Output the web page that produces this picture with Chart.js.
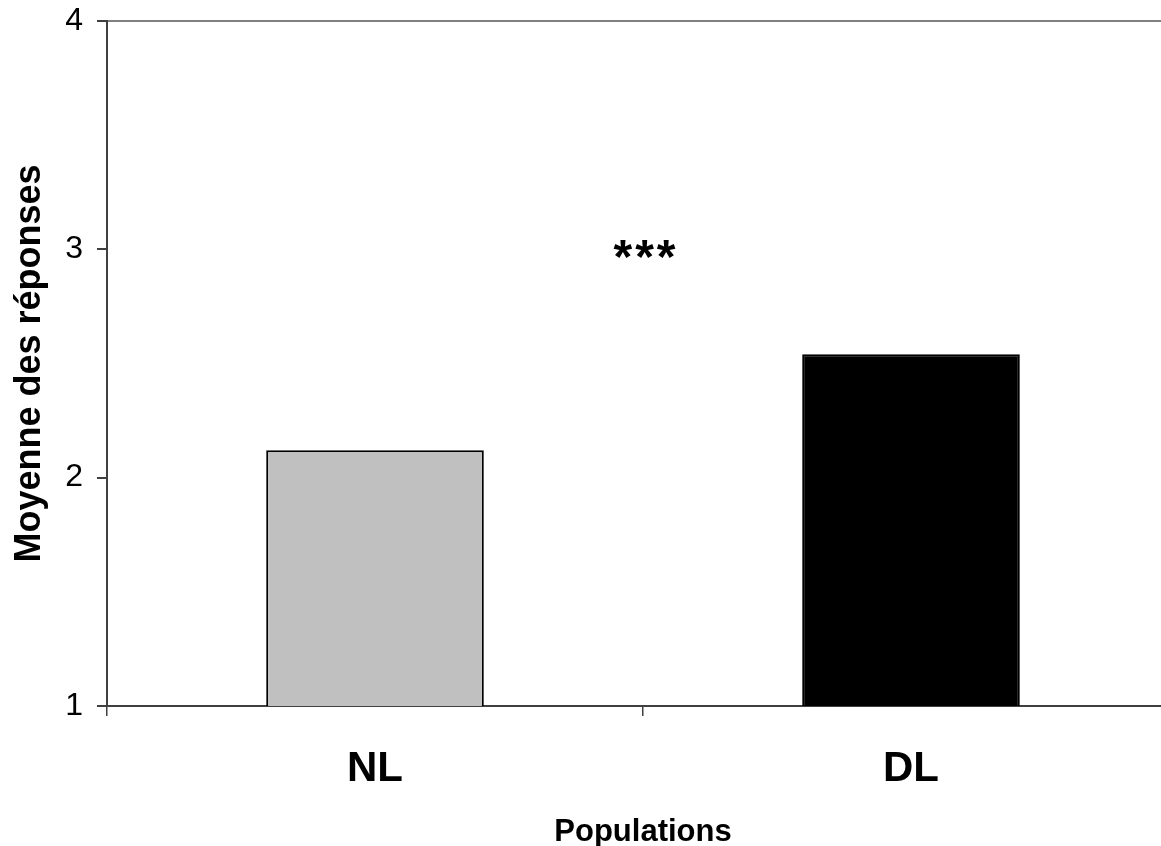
<!DOCTYPE html>
<html>
<head>
<meta charset="utf-8">
<script src="https://cdn.jsdelivr.net/npm/chart.js@4"></script>
<style>
    html, body { margin: 0; padding: 0; background: #fff; overflow: hidden; }
    #wrap { width: 1200px; height: 846px; }
</style>
</head>
<body>
<div id="wrap"><canvas id="meansChart" width="1200" height="846"></canvas></div>
<script>
    // Données
    const populations = ['NL', 'DL'];
    const moyennes = [2.12, 2.54];
    const couleurs = ['#c0c0c0', '#000000'];
    const yTicks = [1, 2, 3, 4];
    const signif = '***';
    const signifY = 3;

    const font = "'Liberation Sans', Arial, sans-serif";
    const axisColor = '#404040';

    // Étoiles de significativité entre les deux barres
    const signifPlugin = {
        id: 'signif',
        afterDatasetsDraw(chart) {
            const ctx = chart.ctx;
            const x = (chart.scales.x.getPixelForValue(0) + chart.scales.x.getPixelForValue(1)) / 2;
            const y = chart.scales.y.getPixelForValue(signifY);
            ctx.save();
            ctx.font = 'bold 48px ' + font;
            ctx.letterSpacing = '3px';
            ctx.fillStyle = '#000';
            ctx.textAlign = 'center';
            ctx.textBaseline = 'middle';
            ctx.fillText(signif, x + 3, y + 10);
            ctx.restore();
        }
    };

    const chart = new Chart(document.getElementById('meansChart'), {
        type: 'bar',
        data: {
            labels: populations,
            datasets: [{
                label: 'Moyenne',
                data: moyennes,
                backgroundColor: couleurs,
                borderColor: '#000',
                borderWidth: 2,
                barPercentage: 0.406,
                categoryPercentage: 1
            }]
        },
        options: {
            responsive: false,
            animation: false,
            layout: { padding: { top: 0, right: 21, left: 0, bottom: 0 } },
            plugins: {
                legend: { display: false },
                tooltip: { enabled: false }
            },
            scales: {
                x: {
                    grid: {
                        offset: true,
                        drawOnChartArea: false,
                        tickLength: 10,
                        tickColor: axisColor,
                        lineWidth: 1.5
                    },
                    border: { color: axisColor, width: 2 },
                    ticks: {
                        color: '#000',
                        padding: 28,
                        font: { family: font, size: 42, weight: 'bold' }
                    },
                    title: {
                        display: true,
                        text: 'Populations',
                        color: '#000',
                        padding: { top: 20, bottom: 0 },
                        font: { family: font, size: 31, weight: 'bold', lineHeight: 0.85 }
                    },
                    afterFit(scale) { scale.height = 140; }
                },
                y: {
                    min: 1,
                    max: 4,
                    afterBuildTicks(scale) { scale.ticks = yTicks.map(v => ({ value: v })); },
                    grid: {
                        color: c => c.tick && c.tick.value === 4 ? '#808080' : 'transparent',
                        lineWidth: 2,
                        tickLength: 10,
                        tickColor: axisColor
                    },
                    border: { color: axisColor, width: 2 },
                    ticks: {
                        color: '#000',
                        padding: 14,
                        font: { family: font, size: 32 }
                    },
                    title: {
                        display: true,
                        text: 'Moyenne des réponses',
                        color: '#000',
                        padding: { top: 8, bottom: 4 },
                        font: { family: font, size: 36, weight: 'bold' }
                    },
                    afterFit(scale) {
                        scale.width = 107;
                        scale.paddingTop = 21;
                        scale.paddingBottom = 0;
                    }
                }
            }
        },
        plugins: [signifPlugin]
    });
</script>
</body>
</html>
